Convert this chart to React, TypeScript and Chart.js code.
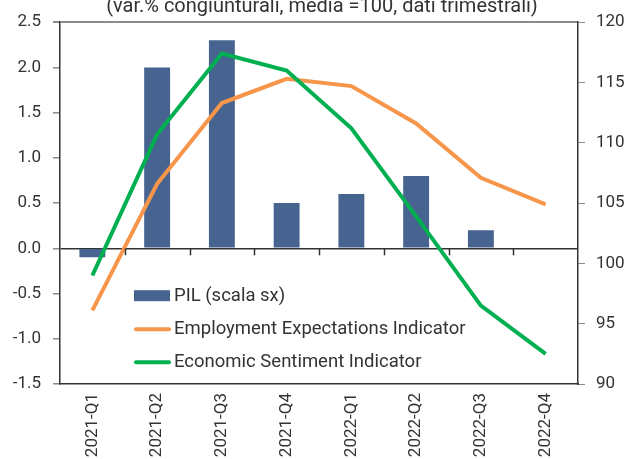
import React, { useEffect, useRef } from "react";
import { Chart, registerables } from "chart.js";

Chart.register(...registerables);

const categories = ["2021-Q1", "2021-Q2", "2021-Q3", "2021-Q4", "2022-Q1", "2022-Q2", "2022-Q3", "2022-Q4"];
const pilValues = [-0.1, 2.0, 2.3, 0.5, 0.6, 0.8, 0.2, null];
const employmentValues = [96.1, 106.6, 113.3, 115.3, 114.7, 111.6, 107.1, 104.9];
const sentimentValues = [99.0, 110.7, 117.4, 116.0, 111.2, 103.9, 96.5, 92.5];
const seriesLabels = ["PIL (scala sx)", "Employment Expectations Indicator", "Economic Sentiment Indicator"];
const leftMin = -1.5;
const leftMax = 2.5;
const leftStep = 0.5;
const rightMin = 90;
const rightMax = 120;
const rightStep = 5;
const titleText = "(var.% congiunturali, media =100, dati trimestrali)";

const FONT = "Roboto";
const TEXT = "#333333";
const DARK = "#333333";
const GRAY = "#8c8c8c";
const BLUE = "#46648f";
const ORANGE = "#f7964a";
const GREEN = "#00b050";

const titlePlugin = {
  id: "customTitle",
  afterDraw(chart: any) {
    const { ctx, chartArea } = chart;
    ctx.save();
    ctx.font = `20px ${FONT}`;
    ctx.fillStyle = TEXT;
    ctx.textAlign = "center";
    ctx.textBaseline = "alphabetic";
    ctx.fillText(titleText, (chartArea.left + chartArea.right) / 2 + 3, chartArea.top - 10.5);
    ctx.restore();
  },
};

const zeroTicksPlugin = {
  id: "zeroTicks",
  afterDatasetsDraw(chart: any) {
    const { ctx } = chart;
    const xs = chart.scales.x;
    const ys = chart.scales.y;
    const y0 = ys.getPixelForValue(0);
    ctx.save();
    ctx.strokeStyle = DARK;
    ctx.lineWidth = 1.5;
    for (let i = 1; i < categories.length; i++) {
      const x = Math.round((xs.getPixelForValue(i - 1) + xs.getPixelForValue(i)) / 2) + 0.5;
      ctx.beginPath();
      ctx.moveTo(x, y0);
      ctx.lineTo(x, y0 + 7);
      ctx.stroke();
    }
    ctx.restore();
  },
};

const legendPlugin = {
  id: "insideLegend",
  afterDraw(chart: any) {
    const { ctx, chartArea } = chart;
    const x0 = chartArea.left + 74;
    const rows = [274, 307, 340];
    ctx.save();
    ctx.font = `18.5px ${FONT}`;
    ctx.textBaseline = "middle";
    ctx.textAlign = "left";
    chart.data.datasets.forEach((ds: any, i: number) => {
      const y = chartArea.top + rows[i];
      if (ds.type === "bar") {
        ctx.fillStyle = ds.backgroundColor;
        ctx.fillRect(x0, y - 6, 36, 11);
      } else {
        ctx.strokeStyle = ds.borderColor;
        ctx.lineWidth = 4;
        ctx.lineCap = "round";
        ctx.beginPath();
        ctx.moveTo(x0 + 2, y);
        ctx.lineTo(x0 + 35, y);
        ctx.stroke();
      }
      ctx.fillStyle = TEXT;
      ctx.fillText(ds.label, x0 + 40, y);
    });
    ctx.restore();
  },
};

export default function App() {
  const ref = useRef<HTMLCanvasElement | null>(null);

  useEffect(() => {
    if (!ref.current) return;
    const chart = new Chart(ref.current, {
      type: "bar",
      data: {
        labels: categories,
        datasets: [
          {
            type: "bar",
            label: seriesLabels[0],
            data: pilValues,
            backgroundColor: BLUE,
            borderWidth: 0,
            yAxisID: "y",
            order: 3,
            barPercentage: 0.4,
            categoryPercentage: 1,
          } as any,
          {
            type: "line",
            label: seriesLabels[1],
            data: employmentValues,
            borderColor: ORANGE,
            backgroundColor: ORANGE,
            borderWidth: 4,
            pointRadius: 0,
            tension: 0,
            yAxisID: "y1",
            order: 2,
          },
          {
            type: "line",
            label: seriesLabels[2],
            data: sentimentValues,
            borderColor: GREEN,
            backgroundColor: GREEN,
            borderWidth: 4,
            pointRadius: 0,
            tension: 0,
            yAxisID: "y1",
            order: 1,
          },
        ],
      },
      options: {
        responsive: false,
        animation: false,
        layout: { padding: { top: 19, left: 0, right: 0, bottom: 0 } },
        plugins: {
          legend: { display: false },
          title: { display: false },
          tooltip: { enabled: false },
        },
        scales: {
          x: {
            position: "bottom",
            offset: true,
            grid: { display: false, drawTicks: false },
            border: { display: true, color: DARK, width: 1.5 },
            ticks: {
              color: TEXT,
              font: { family: FONT, size: 17 },
              minRotation: 90,
              maxRotation: 90,
              padding: 9,
              autoSkip: false,
            },
            afterFit(scale: any) {
              scale.height = 75;
            },
          },
          y: {
            position: "left",
            min: leftMin,
            max: leftMax,
            grid: {
              drawOnChartArea: true,
              color: (c: any) =>
                c.tick && Math.abs(c.tick.value) < 1e-9 ? DARK : c.tick && Math.abs(c.tick.value - leftMax) < 1e-9 ? GRAY : "rgba(0,0,0,0)",
              lineWidth: (c: any) => (c.tick && Math.abs(c.tick.value - leftMax) < 1e-9 ? 2 : 1.5),
              tickColor: GRAY,
              tickLength: 7,
              drawTicks: true,
            },
            border: { display: true, color: DARK, width: 1.5 },
            ticks: {
              stepSize: leftStep,
              color: TEXT,
              font: { family: FONT, size: 17 },
              padding: 12,
              callback: (v: any) => Number(v).toFixed(1),
            },
            afterFit(scale: any) {
              scale.width = 60;
            },
          },
          y1: {
            position: "right",
            min: rightMin,
            max: rightMax,
            grid: { drawOnChartArea: false, tickColor: GRAY, tickLength: 7, drawTicks: true },
            border: { display: true, color: DARK, width: 1.5 },
            ticks: {
              stepSize: rightStep,
              color: TEXT,
              font: { family: FONT, size: 17 },
              padding: 11,
            },
            afterFit(scale: any) {
              scale.width = 54;
            },
          },
        },
      },
      plugins: [titlePlugin, zeroTicksPlugin, legendPlugin],
    });
    return () => chart.destroy();
  }, []);

  return (
    <div style={{ position: "absolute", left: 0, top: 0, width: 632, height: 459, background: "#ffffff" }}>
      <canvas ref={ref} width={632} height={459} />
    </div>
  );
}
